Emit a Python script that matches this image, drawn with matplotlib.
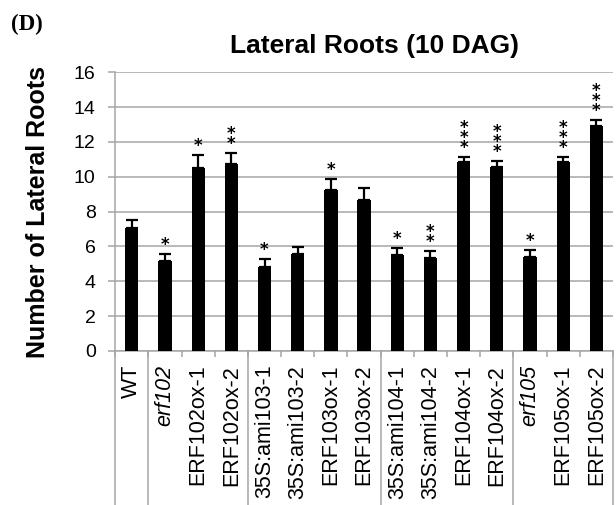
import matplotlib
matplotlib.use('Agg')
import matplotlib.pyplot as plt
import numpy as np

plt.rcParams['font.family'] = ['Liberation Sans', 'DejaVu Sans']

# bar data
lines = ['WT', 'erf102', 'ERF102ox-1', 'ERF102ox-2',
         '35S:ami103-1', '35S:ami103-2', 'ERF103ox-1', 'ERF103ox-2',
         '35S:ami104-1', '35S:ami104-2', 'ERF104ox-1', 'ERF104ox-2',
         'erf105', 'ERF105ox-1', 'ERF105ox-2']
means = [7.07, 5.16, 10.5, 10.76, 4.82, 5.58, 9.26, 8.69,
         5.5, 5.33, 10.83, 10.55, 5.41, 10.83, 12.9]
errs = [0.43, 0.39, 0.74, 0.61, 0.48, 0.38, 0.62, 0.65,
        0.39, 0.38, 0.29, 0.34, 0.38, 0.29, 0.37]
stars = ['', '*', '*', '**', '*', '', '*', '',
         '*', '**', '***', '***', '*', '***', '***']
italic = ['erf102', 'erf105']
group_edges = [-0.5, 0.5, 3.5, 7.5, 11.5, 14.5]

fig = plt.figure(figsize=(6.16, 5.05), dpi=100)
ax = fig.add_axes([0.187, 0.305, 0.808, 0.552])

x = np.arange(len(lines))
ax.bar(x, means, width=0.4, color='black', zorder=3)
ax.errorbar(x, means, yerr=[np.zeros(len(errs)), errs], fmt='none',
            ecolor='black', elinewidth=1.6, capsize=4.6, capthick=1.6, zorder=4)

for i in range(len(lines)):
    if stars[i]:
        ax.annotate('\n'.join(stars[i]), (x[i], means[i] + errs[i]),
                    xytext=(0, 0), textcoords='offset points',
                    ha='center', va='bottom', fontsize=12, linespacing=0.43,
                    family='DejaVu Sans', fontweight='bold', zorder=5)

ax.set_xlim(-0.5, 14.5)
ax.set_ylim(0, 16)
ax.set_yticks(range(0, 17, 2))
ax.yaxis.grid(True, color='#a6a6a6', linewidth=1.1, zorder=0)
ax.set_axisbelow(True)
for s in ['top', 'right']:
    ax.spines[s].set_visible(False)
ax.spines['left'].set_color('#a6a6a6')
ax.spines['bottom'].set_color('#a6a6a6')
ax.spines['left'].set_linewidth(1.1)
ax.spines['bottom'].set_linewidth(1.1)
ax.tick_params(axis='y', length=5, width=1.1, color='#a6a6a6', pad=9, labelsize=14)

ax.set_xticks(x)
ax.set_xticklabels(lines, rotation=90, fontsize=15.5)
for lab in ax.get_xticklabels():
    if lab.get_text() in italic:
        lab.set_style('italic')
ax.tick_params(axis='x', length=0, pad=10)
ax.set_xticks(np.arange(-0.5, 15, 1), minor=True)
ax.tick_params(axis='x', which='minor', length=4, width=1.1, color='#a6a6a6')

# group separators running down through the labels
for e in group_edges:
    ax.plot([e, e], [0, -0.6], transform=ax.get_xaxis_transform(),
            color='#a6a6a6', linewidth=1.1, clip_on=False)

ax.set_title('Lateral Roots (10 DAG)', fontsize=19, fontweight='bold', pad=13.5, x=0.52)
ax.set_ylabel('Number of Lateral Roots', fontsize=18, fontweight='bold', labelpad=17)
fig.text(0.018, 0.94, '(D)', fontsize=16.5, fontweight='bold',
         family='Liberation Serif', va='baseline')

fig.savefig('out.png', dpi=100)
